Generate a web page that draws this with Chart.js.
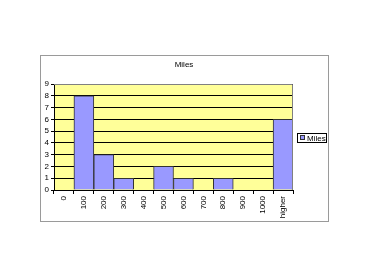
<!DOCTYPE html>
<html>
<head>
<meta charset="utf-8">
<script src="https://cdn.jsdelivr.net/npm/chart.js@4/dist/chart.umd.min.js"></script>
<style>
  html, body { margin: 0; padding: 0; background: #fff; }
  #wrap { width: 368px; height: 276px; }
</style>
</head>
<body>
<div id="wrap"><canvas id="c" width="368" height="276"></canvas></div>
<script>
const categories = ['0', '100', '200', '300', '400', '500', '600', '700', '800', '900', '1000', 'higher'];
const miles = [0, 8, 3, 1, 0, 2, 1, 0, 1, 0, 0, 6];
const seriesName = 'Miles';

const barFill = '#9999FF';
const fontFamily = '"Liberation Sans", Arial, sans-serif';

// yellow plot area, outer frame, title and the boxed legend
const frame = {
    id: 'frame',
    beforeDraw(chart) {
        const { ctx, chartArea: a } = chart;
        ctx.save();
        ctx.fillStyle = '#FFFF99';
        ctx.fillRect(a.left, a.top, a.right - a.left, a.bottom - a.top);
        ctx.strokeStyle = '#9a9a9a';
        ctx.lineWidth = 1;
        ctx.strokeRect(40.5, 55.5, 288, 166);
        ctx.fillStyle = '#000';
        ctx.font = '8px ' + fontFamily;
        ctx.textAlign = 'center';
        ctx.textBaseline = 'middle';
        ctx.fillText(seriesName, 184, 65);
        ctx.restore();
    },
    afterDraw(chart) {
        const { ctx, chartArea: a } = chart;
        ctx.save();
        ctx.strokeStyle = '#808080';
        ctx.lineWidth = 1;
        ctx.beginPath();
        ctx.moveTo(a.left, a.top + 0.5);
        ctx.lineTo(a.right - 0.5, a.top + 0.5);
        ctx.lineTo(a.right - 0.5, a.bottom);
        ctx.stroke();
        // legend
        ctx.strokeStyle = '#000';
        ctx.strokeRect(297.5, 133.5, 29, 9);
        ctx.fillStyle = barFill;
        ctx.fillRect(300, 135, 5, 5);
        ctx.strokeStyle = '#333';
        ctx.strokeRect(300.5, 135.5, 4, 4);
        ctx.fillStyle = '#000';
        ctx.font = '8px ' + fontFamily;
        ctx.textBaseline = 'middle';
        ctx.fillText(seriesName, 307, 138.5);
        ctx.restore();
    }
};

new Chart(document.getElementById('c'), {
    type: 'bar',
    data: {
        labels: categories,
        datasets: [{
            label: seriesName,
            data: miles,
            backgroundColor: barFill,
            borderColor: '#333333',
            borderWidth: 1,
            barPercentage: 1,
            categoryPercentage: 1,
        }],
    },
    options: {
        animation: false,
        responsive: false,
        layout: { padding: { left: 40, right: 75, top: 84, bottom: 56 } },
        plugins: {
            legend: { display: false },
            tooltip: { enabled: false },
            title: { display: false },
        },
        scales: {
            y: {
                min: 0,
                max: 9,
                ticks: { stepSize: 1, autoSkip: false, color: '#000', padding: 2, font: { family: fontFamily, size: 8 } },
                grid: { color: '#000', tickLength: 3, drawTicks: true },
                border: { color: '#000' },
                afterFit(s) { s.width = 14; },
            },
            x: {
                ticks: { color: '#000', minRotation: 90, maxRotation: 90, padding: 2, autoSkip: false, font: { family: fontFamily, size: 8 } },
                grid: { offset: true, drawOnChartArea: false, color: '#000', tickLength: 4 },
                border: { color: '#000' },
                afterFit(s) { s.height = 30; },
            },
        },
    },
    plugins: [frame],
});
</script>
</body>
</html>
